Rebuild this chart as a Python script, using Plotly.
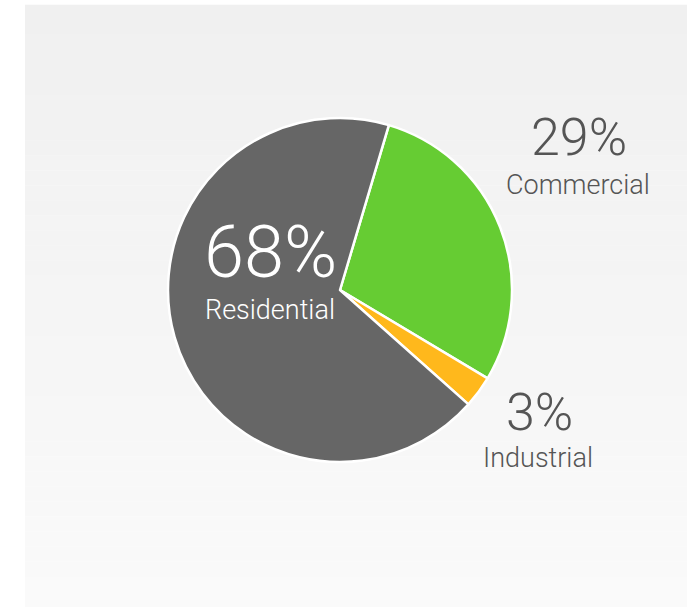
import plotly.graph_objects as go

# Energy use by sector (share of total, %)
sectors = ["Commercial", "Industrial", "Residential"]
shares = [29, 3, 68]
slice_colors = ["#66cc33", "#ffb81c", "#666666"]

W, H = 690, 610
FONT = "Roboto, Lato, sans-serif"

fig = go.Figure()

fig.add_trace(go.Pie(
    labels=sectors,
    values=shares,
    sort=False,
    direction="clockwise",
    rotation=16.5,
    marker=dict(colors=slice_colors, line=dict(color="white", width=2.5)),
    textinfo="none",
    hoverinfo="label+percent",
    showlegend=False,
    domain=dict(x=[(340 - 172) / W, (340 + 172) / W],
                y=[(H - 290 - 172) / H, (H - 290 + 172) / H]),
))

# soft vertical gradient panel behind the chart
shapes = []
n = 40
top, bottom = 5, 607
for i in range(n):
    y0 = top + (bottom - top) * i / n
    y1 = top + (bottom - top) * (i + 1) / n
    t = i / (n - 1)
    g = round(240 + 10 * t)
    shapes.append(dict(
        type="rect", xref="paper", yref="paper", layer="below",
        x0=25 / W, x1=687 / W, y0=1 - y1 / H, y1=1 - y0 / H + 0.0005,
        fillcolor=f"rgb({g},{g},{g})", line=dict(width=0),
    ))

def label(x, y, text, size, color, anchor):
    return dict(x=x / W, y=1 - y / H, xref="paper", yref="paper",
                text=text, showarrow=False, xanchor="center", yanchor=anchor,
                font=dict(family=FONT, size=size, color=color, weight=300))

pct = {s: f"{v}%" for s, v in zip(sectors, shares)}
annotations = [
    label(270, 297, pct["Residential"], 72, "white", "bottom"),
    label(270, 292, "Residential", 27, "white", "top"),
    label(579, 170, pct["Commercial"], 52, "#555555", "bottom"),
    label(578, 167, "Commercial", 27, "#555555", "top"),
    label(539, 445, pct["Industrial"], 52, "#555555", "bottom"),
    label(538, 440, "Industrial", 27, "#555555", "top"),
]

fig.update_layout(
    width=W, height=H,
    margin=dict(l=0, r=0, t=0, b=0),
    paper_bgcolor="white",
    plot_bgcolor="white",
    shapes=shapes,
    annotations=annotations,
)

fig.write_html("out.html")
